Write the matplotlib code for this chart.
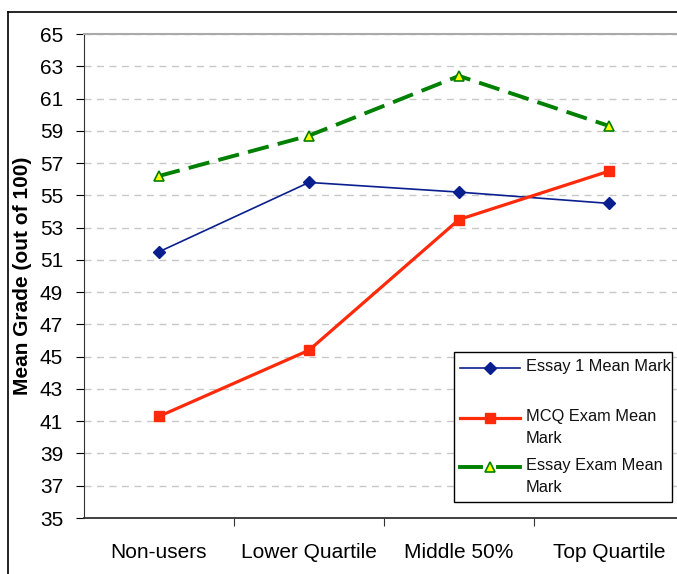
import matplotlib.pyplot as plt
from matplotlib.lines import Line2D
from matplotlib.patches import Rectangle

categories = ["Non-users", "Lower Quartile", "Middle 50%", "Top Quartile"]
essay1 = [51.5, 55.8, 55.2, 54.5]
mcq = [41.3, 45.4, 53.5, 56.5]
essay_exam = [56.2, 58.7, 62.4, 59.3]
y_ticks = list(range(35, 66, 2))
series_labels = ["Essay 1 Mean Mark", "MCQ Exam Mean\nMark", "Essay Exam Mean\nMark"]

W, H = 677, 574
plt.rcParams['font.family'] = ['Liberation Sans', 'DejaVu Sans']
fig = plt.figure(figsize=(W / 100, H / 100), dpi=100)

# outer chart frame (right/bottom sides are cut off in the original)
fig.add_artist(Line2D([8 / W, 8 / W], [0, 1 - 12 / H], transform=fig.transFigure, color="black", lw=1.2))
fig.add_artist(Line2D([8 / W, 1], [1 - 12 / H, 1 - 12 / H], transform=fig.transFigure, color="black", lw=1.2))

# axes extends past the right edge of the figure
ax = fig.add_axes([84 / W, (H - 518) / H, 600 / W, 484 / H])
x = [i + 0.5 for i in range(len(categories))]

styles = [
    dict(color="#0a1f8f", lw=1.2, marker="D", ms=6),
    dict(color="#ff2a0a", lw=2.3, marker="s", ms=7),
    dict(color="#008000", lw=2.8, ls=(0, (5.5, 2.4)), marker="^", ms=7,
         mfc="#ffff00", mec="#008000", mew=1.2),
]
for vals, st in zip([essay1, mcq, essay_exam], styles):
    ax.plot(x, vals, **st)

ax.set_xlim(0, 4)
ax.set_ylim(35, 65)
ax.set_yticks(y_ticks)
ax.set_yticklabels([str(v) for v in y_ticks], fontsize=15)
ax.set_xticks([1, 2, 3])
ax.set_xticklabels([])
ax.set_xticks(x, minor=True)
ax.set_xticklabels(categories, minor=True, fontsize=15)
ax.tick_params(axis="x", which="minor", length=0, pad=18)
ax.tick_params(axis="x", which="major", length=6, direction="out", color="#333333")
ax.tick_params(axis="y", length=6, direction="out", pad=9)

ax.grid(axis="y", color="#c8c8c8", ls=(0, (5, 4)), lw=1)
ax.set_axisbelow(True)
ax.spines["right"].set_visible(False)
ax.spines["top"].set_color("#aaaaaa")
ax.spines["top"].set_linewidth(1.5)
ax.spines["left"].set_color("#333333")
ax.spines["bottom"].set_color("#333333")
ax.spines["bottom"].set_linewidth(1.3)

ax.set_ylabel("Mean Grade (out of 100)", fontsize=15, fontweight="bold", labelpad=6)


# legend box, drawn by hand so handles line up with the first text line
def fx(px):
    return px / W


def fy(py):
    return 1 - py / H


fig.add_artist(Rectangle((fx(454), fy(502)), fx(672) - fx(454), fy(352) - fy(502),
                         transform=fig.transFigure, fill=True, fc="white", ec="black", lw=1))
for lab, st, ypx in zip(series_labels, styles, [368, 418, 467]):
    line_st = {k: v for k, v in st.items() if k not in ("marker", "ms", "mfc", "mec", "mew")}
    if "ls" in line_st:
        line_st["ls"] = "-"
        fig.add_artist(Line2D([fx(460), fx(481)], [fy(ypx)] * 2, transform=fig.transFigure, **line_st))
        fig.add_artist(Line2D([fx(498), fx(520)], [fy(ypx)] * 2, transform=fig.transFigure, **line_st))
    else:
        fig.add_artist(Line2D([fx(460), fx(520)], [fy(ypx)] * 2, transform=fig.transFigure, **line_st))
    mk_st = {k: v for k, v in st.items() if k in ("color", "marker", "ms", "mfc", "mec", "mew")}
    fig.add_artist(Line2D([fx(490)], [fy(ypx)], transform=fig.transFigure, ls="none", **mk_st))
    fig.text(fx(526), fy(ypx - 9), lab, fontsize=11.8, va="top", ha="left",
             linespacing=1.55, color="#111111")

fig.savefig("out.png", dpi=100)
